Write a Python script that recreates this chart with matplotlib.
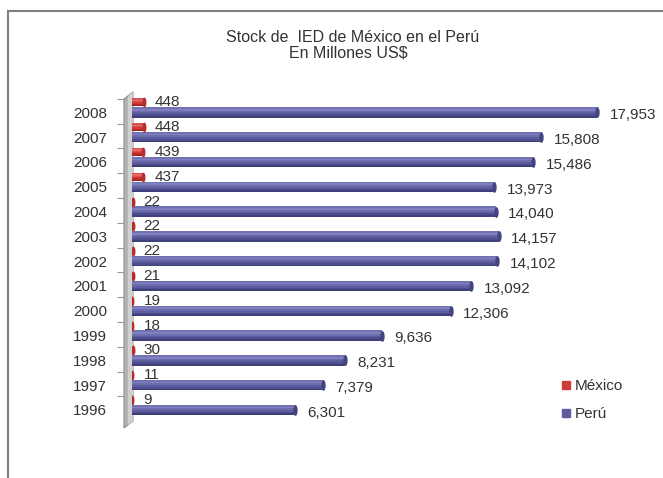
import numpy as np
import matplotlib
matplotlib.use("Agg")
import matplotlib.pyplot as plt
from matplotlib.patches import Polygon
from matplotlib.lines import Line2D
from matplotlib.path import Path
from matplotlib.transforms import Affine2D

plt.rcParams['font.family'] = ['Liberation Sans', 'DejaVu Sans']

years = ['1996', '1997', '1998', '1999', '2000', '2001', '2002',
         '2003', '2004', '2005', '2006', '2007', '2008']
mexico = [9, 11, 30, 18, 19, 21, 22, 22, 22, 437, 439, 448, 448]
peru = [6301, 7379, 8231, 9636, 12306, 13092, 14102, 14157, 14040,
        13973, 15486, 15808, 17953]

W, H = 663, 478
fig = plt.figure(figsize=(W / 100, H / 100), dpi=100)
fig.patch.set_facecolor('white')

# axes placed in pixel terms: value 0 at x=132, 20000 at x=650
ax = fig.add_axes([132 / W, 48.2 / H, 518 / W, 332.3 / H])
ax.set_xlim(0, 20000)
ax.set_ylim(-0.8, 12.6)
ax.patch.set_alpha(0)

y = np.arange(len(years))
y_mex = y + 0.4

def cylinder(ax, ypos, vals, h, cols, zorder=3):
    # stack thin bands to fake a shaded cylinder
    n = len(cols)
    for k, c in enumerate(cols):
        off = -h / 2 + h * (k + 0.5) / n
        ax.barh(ypos + off, vals, height=h / n * 1.02, color=c,
                linewidth=0, zorder=zorder)

peru_cols = ['#3f3f7a', '#4e4e8e', '#5c5c9e', '#6c6cae', '#8080bf', '#7272b2']
mex_cols = ['#9a2020', '#b82c2c', '#cc3a3a', '#dc5050', '#e86868', '#d85050']
cylinder(ax, y, peru, 0.42, peru_cols)
cylinder(ax, y_mex, mexico, 0.32, mex_cols)

# flat elliptic end caps
cap = Path.unit_circle().transformed(Affine2D().scale(0.4, 1.0))
ax.scatter(peru, y, s=60, marker=cap, color='#44447f', zorder=4, linewidths=0)
ax.scatter(mexico, y_mex, s=50, marker=cap, color='#b82c2c', zorder=4, linewidths=0)

for yi, v in zip(y, peru):
    ax.annotate(f'{v:,}', (v, yi), xytext=(9, -2), textcoords='offset points',
                ha='left', va='center', fontsize=11, color='#333333')
for yi, v in zip(y_mex, mexico):
    ax.annotate(f'{v:,}', (v, yi), xytext=(8, 0), textcoords='offset points',
                ha='left', va='center', fontsize=11, color='#333333')

for s in ['top', 'right', 'bottom', 'left']:
    ax.spines[s].set_visible(False)
ax.spines['left'].set_position(('outward', 6))
ax.set_xticks([])
ax.set_yticks(y)
ax.set_yticklabels(years, fontsize=11, color='#333333')
ax.tick_params(axis='y', which='major', length=0, pad=12)
ax.set_yticks(y + 0.55, minor=True)
ax.tick_params(axis='y', which='minor', length=5, color='#999999', width=0.8)

# grey side wall, kept behind the axes
wall = Polygon([(124 / W, 1 - 428 / H), (124 / W, 1 - 99 / H),
                (133 / W, 1 - 92 / H), (133 / W, 1 - 421 / H)],
               closed=True, transform=fig.transFigure,
               facecolor='#b4b4b4', edgecolor='#8c8c8c', lw=0.8, zorder=-2)
fig.add_artist(wall)
wall2 = Polygon([(128 / W, 1 - 425 / H), (128 / W, 1 - 96 / H),
                 (133 / W, 1 - 92 / H), (133 / W, 1 - 421 / H)],
                closed=True, transform=fig.transFigure,
                facecolor='#d0d0d0', edgecolor='none', zorder=-1)
fig.add_artist(wall2)

fig.text(353 / W, 1 - 38 / H, 'Stock de  IED de México en el Perú',
         ha='center', va='center', fontsize=11.5, color='#333333')
fig.text(348 / W, 1 - 53 / H, 'En Millones US$',
         ha='center', va='center', fontsize=11.5, color='#333333')

handles = [Line2D([], [], marker='s', linestyle='', markersize=6,
                  color='#cc3a3a', label='México'),
           Line2D([], [], marker='s', linestyle='', markersize=6,
                  color='#5c5c9e', label='Perú')]
fig.legend(handles=handles, loc='upper left',
           bbox_to_anchor=(555 / W, 1 - 373 / H), frameon=False,
           fontsize=11, handlelength=0.6, handletextpad=0.3,
           labelspacing=0.9, borderaxespad=0, labelcolor='#333333')

# outer frame (left and top edges)
fig.add_artist(Line2D([8 / W, 8 / W], [0, 1 - 11 / H], transform=fig.transFigure,
                      color='#808080', lw=1.5))
fig.add_artist(Line2D([8 / W, 1], [1 - 11 / H, 1 - 11 / H], transform=fig.transFigure,
                      color='#808080', lw=1.5))

fig.savefig('out.png', dpi=100)
